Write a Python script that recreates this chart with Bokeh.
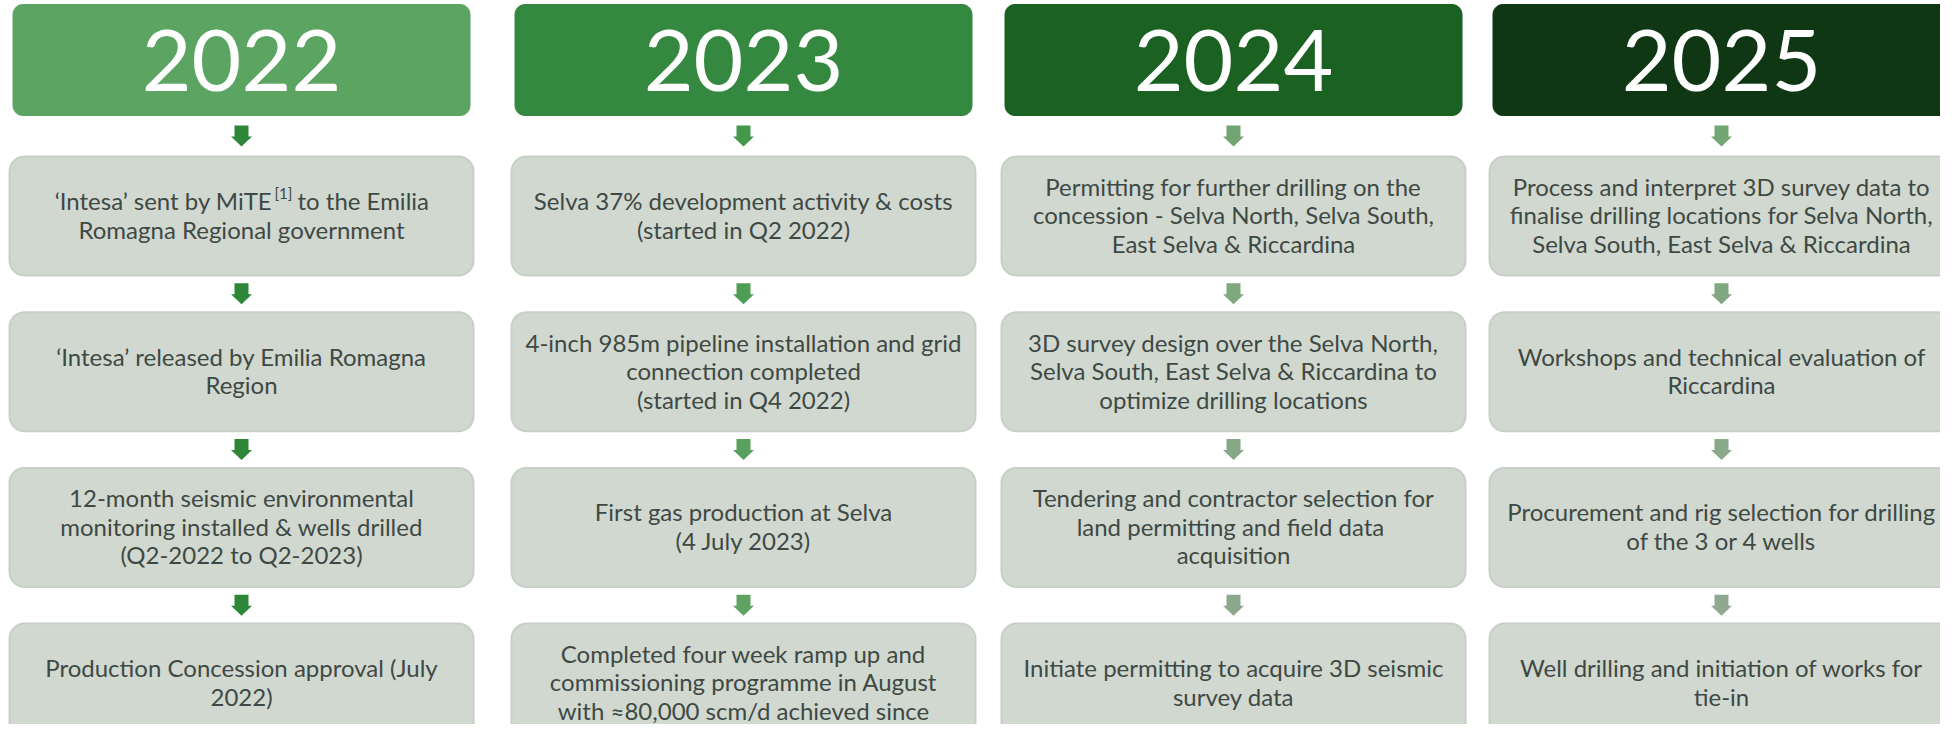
from bokeh.plotting import figure
from bokeh.models import Range1d
from bokeh.embed import file_html
from bokeh.resources import INLINE
from bokeh.core.properties import value
import numpy as np

# ---------------- data ----------------
years = ["2022", "2023", "2024", "2025"]
header_colors = ["#5ba462", "#358840", "#1a6122", "#0f3714"]

milestones_2022 = [
    "‘Intesa’ sent by MiTE^[1]^ to the Emilia\nRomagna Regional government",
    "‘Intesa’ released by Emilia Romagna\nRegion",
    "12-month seismic environmental\nmonitoring installed & wells drilled\n(Q2-2022 to Q2-2023)",
    "Production Concession approval (July\n2022)",
]
milestones_2023 = [
    "Selva 37% development activity & costs\n(started in Q2 2022)",
    "4-inch 985m pipeline installation and grid\nconnection completed\n(started in Q4 2022)",
    "First gas production at Selva\n(4 July 2023)",
    "Completed four week ramp up and\ncommissioning programme in August\nwith ≈80,000 scm/d achieved since",
]
milestones_2024 = [
    "Permitting for further drilling on the\nconcession - Selva North, Selva South,\nEast Selva & Riccardina",
    "3D survey design over the Selva North,\nSelva South, East Selva & Riccardina to\noptimize drilling locations",
    "Tendering and contractor selection for\nland  permitting and field data\nacquisition",
    "Initiate permitting to acquire 3D seismic\nsurvey data",
]
milestones_2025 = [
    "Process and interpret 3D survey data to\nfinalise drilling locations for Selva North,\nSelva South, East Selva & Riccardina",
    "Workshops and technical evaluation of\nRiccardina",
    "Procurement and rig selection for drilling\nof the 3 or 4 wells",
    "Well drilling and initiation of works for\ntie-in",
]
milestones = [milestones_2022, milestones_2023, milestones_2024, milestones_2025]

arrow_colors = [
    ["#2e8638", "#2e8638", "#2e8638", "#2e8638"],
    ["#43984b", "#4f9d55", "#58a05d", "#5fa262"],
    ["#72a572", "#7ea87e", "#87a887", "#8ca88c"],
    ["#72a672", "#80a880", "#8aa88a", "#8fa88f"],
]

# ---------------- layout ----------------
W, H = 1940, 724
col_left = [9, 511, 1001, 1489]
col_w = 464
head_inset = 3.5
head_top, head_bot = 4, 115
row_top0, row_step, row_h = 156, 155.7, 119
line_gap = 28.5
body_font = "Lato"
body_px = 24
head_px = 86
base_fix = 0.32  # correction of the rendered alphabetic baseline (in em)
text_color = "#3f4944"
box_fill = "#d0d8d0"
box_line = "#c7d0c7"


def rrect(x0, y0, x1, y1, r, n=10):
    xs, ys = [], []
    corners = [
        (x1 - r, y0 + r, -np.pi / 2, 0),
        (x1 - r, y1 - r, 0, np.pi / 2),
        (x0 + r, y1 - r, np.pi / 2, np.pi),
        (x0 + r, y0 + r, np.pi, 1.5 * np.pi),
    ]
    for cx, cy, a0, a1 in corners:
        t = np.linspace(a0, a1, n)
        xs.extend(cx + r * np.cos(t))
        ys.extend(cy + r * np.sin(t))
    return list(xs), list(ys)


def arrow(cx, ymid):
    stem_w, head_w, total = 14, 21, 21
    y0 = ymid - total / 2
    y1 = ymid + total / 2
    yh = y0 + 11
    xs = [cx - stem_w / 2, cx + stem_w / 2, cx + stem_w / 2, cx + head_w / 2, cx, cx - head_w / 2, cx - stem_w / 2]
    ys = [y0, y0, yh, yh, y1, yh, yh]
    return xs, ys


p = figure(width=W, height=H, output_backend="svg", toolbar_location=None,
           x_range=Range1d(0, W), y_range=Range1d(H, 0),
           min_border=0)
p.axis.visible = False
p.grid.visible = False
p.outline_line_color = None
p.background_fill_color = "white"
p.border_fill_color = "white"

hx, hy, hc = [], [], []
bx, by = [], []
ax, ay, ac = [], [], []
tx, ty, tt = [], [], []
lx, ly, lt = [], [], []  # right-aligned pieces
rx, ry, rt = [], [], []  # left-aligned pieces
sx, sy, st = [], [], []  # superscripts
yx, yy, yt = [], [], []

for c, year in enumerate(years):
    x0 = col_left[c]
    x1 = x0 + col_w
    cx = (x0 + x1) / 2
    xs, ys = rrect(x0 + head_inset, head_top, x1 - head_inset, head_bot, 10)
    hx.append(xs); hy.append(ys); hc.append(header_colors[c])
    yx.append(cx); yy.append((head_top + head_bot) / 2 + 28 - base_fix * head_px); yt.append(year)
    prev_bottom = head_bot
    for r, txt in enumerate(milestones[c]):
        top = row_top0 + r * row_step
        bot = top + row_h
        xs, ys = rrect(x0, top, x1, bot, 15)
        bx.append(xs); by.append(ys)
        axs, ays = arrow(cx, (prev_bottom + top) / 2)
        ax.append(axs); ay.append(ays); ac.append(arrow_colors[c][r])
        prev_bottom = bot
        lines = txt.split("\n")
        n = len(lines)
        ymid = (top + bot) / 2
        for k, ln in enumerate(lines):
            yb = ymid + (k - (n - 1) / 2) * line_gap + 6.5 - base_fix * body_px
            if "^" in ln:
                left, sup, right = ln.split("^")
                lx.append(cx + 31); ly.append(yb); lt.append(left)
                sx.append(cx + 33); sy.append(yb - 8); st.append(sup)
                rx.append(cx + 56); ry.append(yb); rt.append(right.strip())
            else:
                tx.append(cx); ty.append(yb); tt.append(ln)

p.patches(hx, hy, fill_color=hc, line_color=hc, line_width=1)
p.patches(bx, by, fill_color=box_fill, line_color=box_line, line_width=2)
p.patches(ax, ay, fill_color=ac, line_color=None)

p.text(yx, yy, text=yt, text_align="center", text_baseline="alphabetic",
       text_font=value(body_font), text_font_size=f"{head_px}px", text_color="white")
common = dict(text_baseline="alphabetic", text_font=value(body_font), text_color=text_color)
bsize = f"{body_px}px"
p.text(tx, ty, text=tt, text_align="center", text_font_size=bsize, **common)
p.text(lx, ly, text=lt, text_align="right", text_font_size=bsize, **common)
p.text(rx, ry, text=rt, text_align="left", text_font_size=bsize, **common)
p.text(sx, sy, text=st, text_align="left", text_font_size="15px", **common)

open("out.html", "w").write(file_html(p, INLINE))
